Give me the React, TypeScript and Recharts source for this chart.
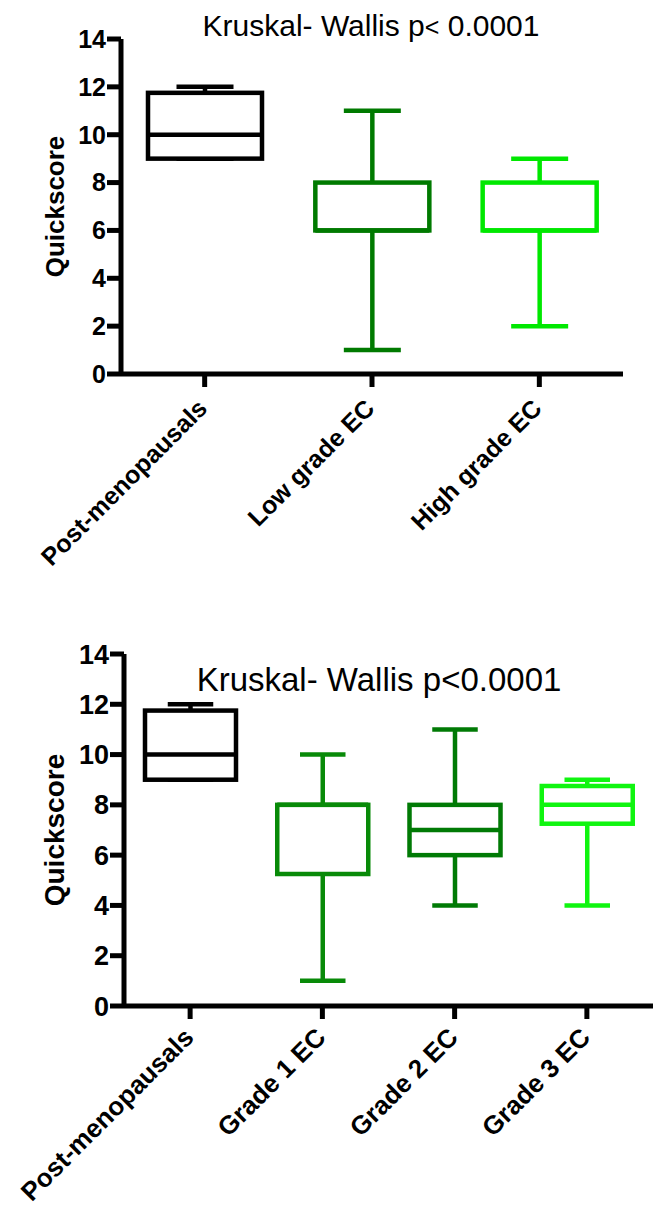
import React from "react";
import { ComposedChart, Bar, XAxis, YAxis } from "recharts";

// Panel A: menopausal vs low/high grade
const groupsA = ["Post-menopausals", "Low grade EC", "High grade EC"];
const minA = [9, 1, 2];
const q1A = [9, 6, 6];
const medianA = [10, 6, 6];
const q3A = [11.75, 8, 8];
const maxA = [12, 11, 9];
const colorsA = ["#000000", "#007A00", "#00E800"];

// Panel B: menopausal vs grade 1/2/3
const groupsB = ["Post-menopausals", "Grade 1 EC", "Grade 2 EC", "Grade 3 EC"];
const minB = [9, 1, 4, 4];
const q1B = [9, 5.25, 6, 7.25];
const medianB = [10, 8, 7, 8];
const q3B = [11.75, 8, 8, 8.75];
const maxB = [12, 10, 11, 9];
const colorsB = ["#000000", "#088A08", "#007A05", "#10F510"];

const yTicks = [0, 2, 4, 6, 8, 10, 12, 14];

const FONT = "'Liberation Sans', Arial, Helvetica, sans-serif";

const buildRows = (
  groups: string[],
  min: number[],
  q1: number[],
  median: number[],
  q3: number[],
  max: number[]
) =>
  groups.map((name, i) => ({
    name,
    min: min[i],
    q1: q1[i],
    median: median[i],
    q3: q3[i],
    max: max[i],
  }));

const makeBoxShape = (colors: string[], strokeWidth: number) => (props: any) => {
  const { x, y, width, height, payload, index } = props;
  if (!payload) return null;
  const top = Math.min(y, y + height);
  const bottom = Math.max(y, y + height);
  const range = payload.max - payload.min;
  // map a value into pixels using the bar's own min→max span
  const py = (v: number) => bottom - ((v - payload.min) / range) * (bottom - top);
  const color = colors[index] || "#000";
  const cx = x + width / 2;
  const cap = width * 0.5;
  const yQ1 = py(payload.q1);
  const yQ3 = py(payload.q3);
  const yMed = py(payload.median);
  const yMax = py(payload.max);
  const yMin = py(payload.min);
  return (
    <g stroke={color} strokeWidth={strokeWidth} fill="none">
      <line x1={cx} x2={cx} y1={yMax} y2={yQ3} />
      <line x1={cx} x2={cx} y1={yQ1} y2={yMin} />
      <line x1={cx - cap / 2} x2={cx + cap / 2} y1={yMax} y2={yMax} />
      <line x1={cx - cap / 2} x2={cx + cap / 2} y1={yMin} y2={yMin} />
      <rect x={x} y={yQ3} width={width} height={yQ1 - yQ3} fill="#fff" />
      <line x1={x} x2={x + width} y1={yMed} y2={yMed} />
    </g>
  );
};

const makeXTick = (fontSize: number, dx: number, dy: number) => (props: any) => {
  const { x, y, payload } = props;
  const tx = x + dx;
  const ty = y + dy;
  return (
    <text
      x={tx}
      y={ty}
      textAnchor="end"
      transform={`rotate(-45, ${tx}, ${ty})`}
      fontFamily={FONT}
      fontWeight="bold"
      fontSize={fontSize}
      fill="#000"
    >
      {payload.value}
    </text>
  );
};

const yLabel = (fontSize: number, xPos: number) => (props: any) => {
  const vb = props.viewBox || {};
  const cy = vb.y + vb.height / 2;
  return (
    <text
      x={xPos}
      y={cy}
      textAnchor="middle"
      transform={`rotate(-90, ${xPos}, ${cy})`}
      fontFamily={FONT}
      fontWeight="bold"
      fontSize={fontSize}
      fill="#000"
    >
      Quickscore
    </text>
  );
};

interface PanelProps {
  rows: any[];
  colors: string[];
  width: number;
  height: number;
  margin: { top: number; right: number; bottom: number; left: number };
  barSize: number;
  tickFont: number;
  xTickFont: number;
  labelFont: number;
  labelX: number;
  xTickDx: number;
  xTickDy: number;
}

const BoxPanel: React.FC<PanelProps> = ({
  rows,
  colors,
  width,
  height,
  margin,
  barSize,
  tickFont,
  xTickFont,
  labelFont,
  labelX,
  xTickDx,
  xTickDy,
}) => (
  <ComposedChart width={width} height={height} data={rows} margin={margin}>
    <XAxis
      dataKey="name"
      type="category"
      interval={0}
      height={200}
      axisLine={{ stroke: "#000", strokeWidth: 5 }}
      tickLine={{ stroke: "#000", strokeWidth: 5 }}
      tickSize={13}
      tickMargin={0}
      tick={makeXTick(xTickFont, xTickDx, xTickDy)}
    />
    <YAxis
      type="number"
      domain={[0, 14]}
      ticks={yTicks}
      width={60}
      interval={0}
      axisLine={{ stroke: "#000", strokeWidth: 5 }}
      tickLine={{ stroke: "#000", strokeWidth: 5 }}
      tickSize={14}
      tickMargin={1}
      tick={{ fill: "#000", fontFamily: FONT, fontWeight: "bold", fontSize: tickFont }}
      label={{ content: yLabel(labelFont, labelX) }}
    />
    <Bar
      dataKey={(d: any) => [d.min, d.max]}
      barSize={barSize}
      isAnimationActive={false}
      shape={makeBoxShape(colors, 4.5)}
    />
  </ComposedChart>
);

const titleStyle: React.CSSProperties = {
  position: "absolute",
  fontFamily: FONT,
  color: "#000",
  whiteSpace: "nowrap",
  transform: "translateX(-50%)",
  lineHeight: 1,
};

export default function App() {
  const rowsA = buildRows(groupsA, minA, q1A, medianA, q3A, maxA);
  const rowsB = buildRows(groupsB, minB, q1B, medianB, q3B, maxB);
  return (
    <div
      style={{
        position: "absolute",
        left: 0,
        top: 0,
        width: 653,
        height: 1213,
        background: "#fff",
        overflow: "hidden",
      }}
    >
      <div style={{ position: "absolute", left: 0, top: 0 }}>
        <BoxPanel
          rows={rowsA}
          colors={colorsA}
          width={653}
          height={620}
          margin={{ top: 39, right: 30, bottom: 46, left: 61 }}
          barSize={114}
          tickFont={25}
          xTickFont={25}
          labelFont={26}
          labelX={64}
          xTickDx={4}
          xTickDy={23}
        />
      </div>
      <div style={{ ...titleStyle, left: 371, top: 11, fontSize: 30 }}>
        Kruskal- Wallis p<span style={{ fontSize: 25 }}>{"<"}</span> 0.0001
      </div>
      <div style={{ position: "absolute", left: 0, top: 620 }}>
        <BoxPanel
          rows={rowsB}
          colors={colorsB}
          width={653}
          height={593}
          margin={{ top: 34, right: 0, bottom: 7, left: 64 }}
          barSize={91}
          tickFont={27}
          xTickFont={26}
          labelFont={28}
          labelX={64}
          xTickDx={5}
          xTickDy={20}
        />
      </div>
      <div style={{ ...titleStyle, left: 379, top: 663, fontSize: 33 }}>
        Kruskal- Wallis p&lt;0.0001
      </div>
    </div>
  );
}
